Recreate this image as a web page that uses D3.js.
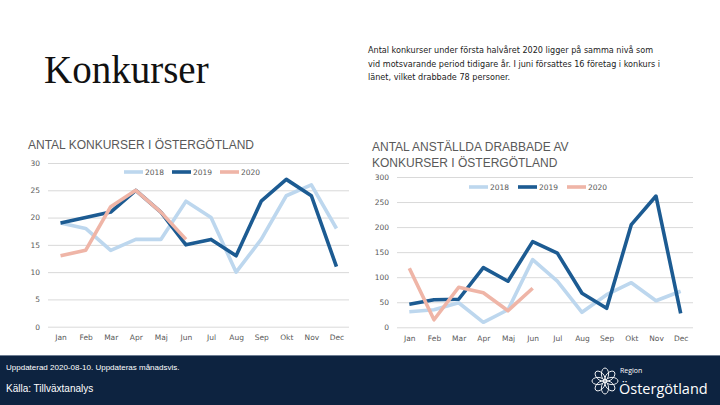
<!DOCTYPE html>
<html>
<head>
<meta charset="utf-8">
<script src="https://cdn.jsdelivr.net/npm/d3@7"></script>
<style>
  body { margin: 0; background: #fff; }
  svg { display: block; }
  .tick text { fill: #595959; font-family: "DejaVu Sans", sans-serif; font-size: 7.5px; }
  .grid line { stroke: #d9d9d9; }
  .grid .domain { display: none; }
</style>
</head>
<body>
<div id="chart"></div>
<script>
const months = ["Jan", "Feb", "Mar", "Apr", "Maj", "Jun", "Jul", "Aug", "Sep", "Okt", "Nov", "Dec"];
const years = ["2018", "2019", "2020"];

// antal konkurser per månad
const konkurser2018 = [19, 18, 14, 16, 16, 23, 20, 10, 16, 24, 26, 18];
const konkurser2019 = [19, 20, 21, 25, 21, 15, 16, 13, 23, 27, 24, 11];
const konkurser2020 = [13, 14, 22, 25, 21, 16];

// antal anställda drabbade
const anstallda2018 = [31, 35, 49, 10, 35, 135, 92, 30, 65, 89, 53, 72];
const anstallda2019 = [46, 55, 56, 119, 92, 171, 148, 68, 38, 205, 262, 28];
const anstallda2020 = [118, 15, 80, 69, 33, 78];

const konkurserTicks = [0, 5, 10, 15, 20, 25, 30];
const anstalldaTicks = [0, 50, 100, 150, 200, 250, 300];

const COLORS = { "2018": "#bdd7ee", "2019": "#1c5b92", "2020": "#efb5a7" };
const W = 720, H = 405;

const svg = d3.select("#chart").append("svg").attr("width", W).attr("height", H);

// header
svg.append("text")
  .attr("x", 44).attr("y", 83)
  .attr("font-family", "Liberation Serif, serif")
  .attr("font-size", 39)
  .attr("fill", "#111")
  .text("Konkurser");

const intro = [
  "Antal konkurser under första halvåret 2020 ligger på samma nivå som",
  "vid motsvarande period tidigare år. I juni försattes 16 företag i konkurs i",
  "länet, vilket drabbade 78 personer."
];
svg.append("g").selectAll("text")
  .data(intro)
  .join("text")
  .attr("x", 368)
  .attr("y", (d, i) => 53 + i * 13.5)
  .attr("font-family", "DejaVu Sans, sans-serif")
  .attr("font-size", 8.1)
  .attr("fill", "#222")
  .text((d) => d);

function lineChart(opts) {
  const x = d3.scalePoint().domain(months).range([opts.left, opts.right]).padding(0.5);
  const y = d3.scaleLinear().domain([0, d3.max(opts.ticks)]).range([opts.bottom, opts.top]);

  svg.append("g")
    .attr("class", "grid")
    .attr("transform", `translate(${opts.left},0)`)
    .call(d3.axisLeft(y).tickValues(opts.ticks).tickSize(-(opts.right - opts.left)).tickFormat(""));

  svg.append("g")
    .attr("transform", `translate(${opts.left - 8},0)`)
    .call(d3.axisLeft(y).tickValues(opts.ticks).tickSize(0).tickPadding(0))
    .call((g) => g.select(".domain").remove());

  svg.append("g")
    .attr("transform", `translate(0,${opts.bottom + 8})`)
    .call(d3.axisBottom(x).tickSize(0).tickPadding(0))
    .call((g) => g.select(".domain").remove())
    .selectAll("text").attr("dy", "0.71em");

  opts.titles.forEach((t, i) => {
    svg.append("text")
      .attr("x", opts.titleX).attr("y", opts.titleY + i * 15.5)
      .attr("font-family", "Liberation Sans, sans-serif")
      .attr("font-size", 12)
      .attr("fill", "#595959")
      .text(t);
  });

  const line = d3.line().x((d, i) => x(months[i])).y((d) => y(d));
  svg.append("g").selectAll("path")
    .data(years.map((yr, i) => ({ yr, values: opts.series[i] })))
    .join("path")
    .attr("d", (d) => line(d.values))
    .attr("fill", "none")
    .attr("stroke", (d) => COLORS[d.yr])
    .attr("stroke-width", 3.6)
    .attr("stroke-linejoin", "round");

  const legend = svg.append("g").attr("transform", `translate(${opts.legendX},${opts.legendY})`);
  legend.selectAll("g")
    .data(years)
    .join("g")
    .attr("transform", (d, i) => `translate(${i * opts.legendStep},0)`)
    .each(function (d) {
      const g = d3.select(this);
      g.append("line").attr("x1", 0).attr("x2", 19).attr("stroke", COLORS[d]).attr("stroke-width", 3.6);
      g.append("text")
        .attr("x", 21).attr("y", 3)
        .attr("font-family", "DejaVu Sans, sans-serif")
        .attr("font-size", 7.5)
        .attr("fill", "#595959")
        .text(d);
    });
}

lineChart({
  left: 48, right: 349, top: 163, bottom: 326.7,
  ticks: konkurserTicks,
  series: [konkurser2018, konkurser2019, konkurser2020],
  titles: ["ANTAL KONKURSER I ÖSTERGÖTLAND"], titleX: 28, titleY: 149,
  legendX: 124, legendY: 172, legendStep: 48
});

lineChart({
  left: 397, right: 693, top: 177, bottom: 327.3,
  ticks: anstalldaTicks,
  series: [anstallda2018, anstallda2019, anstallda2020],
  titles: ["ANTAL ANSTÄLLDA DRABBADE AV", "KONKURSER I ÖSTERGÖTLAND"], titleX: 372, titleY: 151,
  legendX: 469, legendY: 187, legendStep: 49
});

// footer
svg.append("rect").attr("x", 0).attr("y", 355).attr("width", W).attr("height", H - 355).attr("fill", "#0d2340");
svg.append("line").attr("x1", 0).attr("x2", W).attr("y1", 355.5).attr("y2", 355.5).attr("stroke", "#6d7d92");
svg.append("text")
  .attr("x", 6).attr("y", 370)
  .attr("font-family", "Liberation Sans Narrow, Liberation Sans, sans-serif")
  .attr("font-size", 8)
  .attr("fill", "#fff")
  .text("Uppdaterad 2020-08-10. Uppdateras månadsvis.");
svg.append("text")
  .attr("x", 6).attr("y", 392)
  .attr("font-family", "Liberation Sans Narrow, Liberation Sans, sans-serif")
  .attr("font-size", 10)
  .attr("fill", "#fff")
  .text("Källa: Tillväxtanalys");

// logo
const logo = svg.append("g").attr("transform", "translate(605,381)").attr("fill", "none").attr("stroke", "#fff").attr("stroke-width", 0.9);
d3.range(8).forEach((i) => {
  logo.append("ellipse")
    .attr("cx", 0).attr("cy", -7).attr("rx", 3.6).attr("ry", 6)
    .attr("transform", `rotate(${i * 45})`);
});
svg.append("text")
  .attr("x", 620).attr("y", 373)
  .attr("font-family", "Open Sans, sans-serif")
  .attr("font-size", 7)
  .attr("fill", "#fff")
  .text("Region");
svg.append("text")
  .attr("x", 619).attr("y", 394)
  .attr("font-family", "Open Sans, sans-serif")
  .attr("font-size", 14.5)
  .attr("fill", "#fff")
  .text("Östergötland");
</script>
</body>
</html>
